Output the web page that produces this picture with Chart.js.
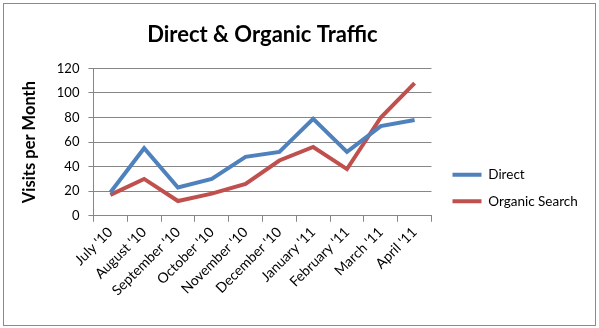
<!DOCTYPE html>
<html>
<head>
<meta charset="utf-8">
<script src="https://cdn.jsdelivr.net/npm/chart.js@4/dist/chart.umd.min.js"></script>
<style>
  html, body { margin: 0; padding: 0; background: #fff; }
  #frame {
    position: absolute; left: 3px; top: 3px;
    width: 591px; height: 321px;
    border: 1px solid #8a8a8a;
  }
</style>
</head>
<body>
<div id="frame"><canvas id="myChart" width="591" height="321"></canvas></div>
<script>
/* data */
const months = ["July '10", "August '10", "September '10", "October '10", "November '10",
  "December '10", "January '11", "February '11", "March '11", "April '11"];
const directVisits = [19, 55, 23, 30, 48, 52, 79, 52, 73, 78];
const organicVisits = [17, 30, 12, 18, 26, 45, 56, 38, 80, 108];
const yTicks = [0, 20, 40, 60, 80, 100, 120];

/* Office 2007 palette */
let colorBlue = 'rgb(79, 129, 189)';
let colorRed = 'rgb(192, 80, 77)';
let colorGrid = 'rgb(134, 134, 134)';
let fontFace = 'Lato, "Open Sans", sans-serif';

// legend: keep a fixed gap from the plot, let it run to the right edge,
// and drop it below the middle
const legendNudge = {
  id: 'legendNudge',
  afterLayout(chart) {
    const lg = chart.legend;
    const pad = lg.options.labels.padding;
    lg.left = chart.chartArea.right + 21 - pad;
    lg.right = chart.width;
    lg.width = lg.right - lg.left;
    lg.top += 151; lg.bottom += 151;
  },
};

const data = {
  labels: months,
  datasets: [
    {
      label: 'Direct',
      data: directVisits,
      borderColor: colorBlue,
      backgroundColor: colorBlue,
      borderWidth: 4,
      pointRadius: 0,
      tension: 0,
    },
    {
      label: 'Organic Search',
      data: organicVisits,
      borderColor: colorRed,
      backgroundColor: colorRed,
      borderWidth: 4,
      pointRadius: 0,
      tension: 0,
    },
  ],
};

const chartConfig = {
  type: 'line',
  data,
  plugins: [legendNudge],
  options: {
    responsive: false,
    animation: false,
    layout: { padding: { left: 6, right: 23, top: 0, bottom: 24 } },
    plugins: {
      title: {
        display: true,
        text: 'Direct & Organic Traffic',
        color: '#000',
        fullSize: false,
        font: { family: fontFace, size: 22, weight: 'bold' },
        padding: { top: 18, bottom: 20 },
      },
      legend: {
        position: 'right',
        align: 'start',
        labels: {
          color: '#000',
          usePointStyle: true,
          pointStyle: 'line',
          pointStyleWidth: 29,
          boxHeight: 4,
          padding: 13,
          font: { family: fontFace, size: 13.5 },
        },
      },
      tooltip: { enabled: false },
    },
    scales: {
      x: {
        offset: true,
        border: { color: colorGrid, width: 1 },
        grid: {
          offset: true,
          drawOnChartArea: false,
          drawTicks: true,
          tickLength: 6,
          color: colorGrid,
        },
        ticks: {
          color: '#000',
          minRotation: 45,
          maxRotation: 45,
          autoSkip: false,
          padding: 2,
          font: { family: fontFace, size: 14 },
        },
      },
      y: {
        min: yTicks[0],
        max: yTicks[yTicks.length - 1],
        border: { color: colorGrid, width: 1 },
        grid: { color: colorGrid, tickLength: 5 },
        afterBuildTicks: (axis) => { axis.ticks = yTicks.map(v => ({ value: v })); },
        ticks: {
          color: '#000',
          padding: 9,
          font: { family: fontFace, size: 13 },
        },
        title: {
          display: true,
          text: 'Visits per Month',
          color: '#000',
          padding: { top: 10, bottom: 8 },
          font: { family: fontFace, size: 16.5, weight: 'bold' },
        },
      },
    },
  },
};

const ctx = document.getElementById('myChart').getContext('2d');
const myChart = new Chart(ctx, chartConfig);
</script>
</body>
</html>
